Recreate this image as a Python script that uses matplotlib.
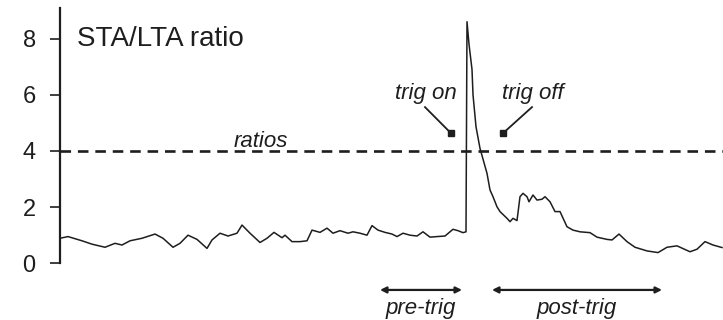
#!/usr/bin/env python3
# STA/LTA trigger illustration: ratio trace, trigger threshold, pre/post-trigger windows.
import matplotlib
matplotlib.use("Agg")
import matplotlib.pyplot as plt  # noqa: E402

# Sample index along the record and the STA/LTA ratio at that sample.
SAMPLES = [0, 8, 22, 32, 45, 55, 62, 70, 82, 95, 103, 113, 120, 128, 137, 147, 152,
           160, 168, 177, 182, 190, 200, 207, 214, 222, 225, 232, 240, 247, 252, 260,
           267, 273, 280, 288, 293, 300, 307, 312, 318, 325, 332, 337, 343, 350, 357,
           363, 370, 377, 385, 393, 398, 403, 406, 407, 409, 412, 413, 416, 420, 427,
           430, 433, 437, 440, 447, 450, 453, 457, 460, 463, 467, 469, 473, 477, 482,
           485, 490, 495, 500, 507, 513, 520, 530, 537, 547, 552, 559, 567, 575, 587,
           598, 607, 617, 630, 637, 645, 653, 662]
RATIO = [0.89, 0.95, 0.80, 0.68, 0.57, 0.71, 0.65, 0.80, 0.89, 1.04, 0.89, 0.57, 0.71,
         1.00, 0.85, 0.53, 0.83, 1.07, 0.97, 1.07, 1.36, 1.07, 0.74, 0.89, 1.10, 0.91,
         1.00, 0.77, 0.77, 0.80, 1.18, 1.10, 1.25, 1.07, 1.16, 1.07, 1.12, 1.07, 1.00,
         1.34, 1.18, 1.10, 1.04, 0.95, 1.07, 1.00, 0.97, 1.12, 0.93, 0.95, 0.97, 1.21,
         1.16, 1.09, 1.12, 8.60, 7.80, 6.90, 6.00, 4.86, 4.09, 3.20, 2.61, 2.37, 2.01,
         1.84, 1.60, 1.48, 1.60, 1.52, 2.37, 2.49, 2.37, 2.19, 2.43, 2.25, 2.28, 2.37,
         2.19, 1.84, 1.84, 1.30, 1.18, 1.12, 1.09, 0.93, 0.85, 0.83, 1.04, 0.77, 0.57,
         0.44, 0.38, 0.57, 0.62, 0.41, 0.50, 0.77, 0.65, 0.56]

Y_TICKS = [0, 2, 4, 6, 8]
THRESHOLD = 4

# the two windows either side of the trigger
PRE_WINDOW = (320, 402)
POST_WINDOW = (432, 602)

INK = "#1e1e1e"


def main():
    plt.rcParams["font.family"] = ["Liberation Sans", "DejaVu Sans"]

    fig = plt.figure(figsize=(7.23, 3.2), dpi=100)
    ax = fig.add_axes([0.083, 0.0, 0.917, 0.976])

    ax.plot(SAMPLES, RATIO, color=INK, lw=1.1)
    ax.axhline(THRESHOLD, color=INK, lw=1.9, dashes=(4, 2.6))

    ax.set_xlim(0, 663)
    ax.set_ylim(-2.02, 9.1)

    ax.spines[["top", "right", "bottom"]].set_visible(False)
    ax.spines["left"].set_bounds(0, 9.1)
    ax.spines["left"].set_linewidth(1.6)
    ax.spines["left"].set_color(INK)
    ax.set_xticks([])
    ax.set_yticks(Y_TICKS)
    ax.tick_params(axis="y", length=7.5, width=1.2, pad=10, labelsize=17,
                   colors=INK)

    ax.text(17, 8.0, "STA/LTA ratio", fontsize=20, color=INK, va="center")
    ax.text(201, 4.15, "ratios", fontsize=16, style="italic", color=INK,
            ha="center", va="baseline")

    # trigger arrows: short leader ending in a small square
    for label, txt_x, start, end in [("trig on", 366, (365, 5.56), (391, 4.63)),
                                      ("trig off", 473, (472, 5.56), (443, 4.63))]:
        ax.text(txt_x, 6.06, label, fontsize=16, style="italic", color=INK,
                ha="center", va="center")
        ax.plot([start[0], end[0]], [start[1], end[1]], color=INK, lw=1.3)
        ax.plot(*end, marker="s", ms=4, color=INK)

    # pre / post trigger windows
    for label, (x0, x1) in [("pre-trig", PRE_WINDOW), ("post-trig", POST_WINDOW)]:
        ax.annotate("", xy=(x0, -0.95), xytext=(x1, -0.95),
                    arrowprops=dict(arrowstyle="<|-|>", color=INK, lw=1.6,
                                    mutation_scale=9, shrinkA=0, shrinkB=0))
        ax.text((x0 + x1) / 2, -1.6, label, fontsize=16, style="italic",
                color=INK, ha="center", va="center")

    fig.savefig("out.png", dpi=100)
    plt.close(fig)


if __name__ == "__main__":
    main()
